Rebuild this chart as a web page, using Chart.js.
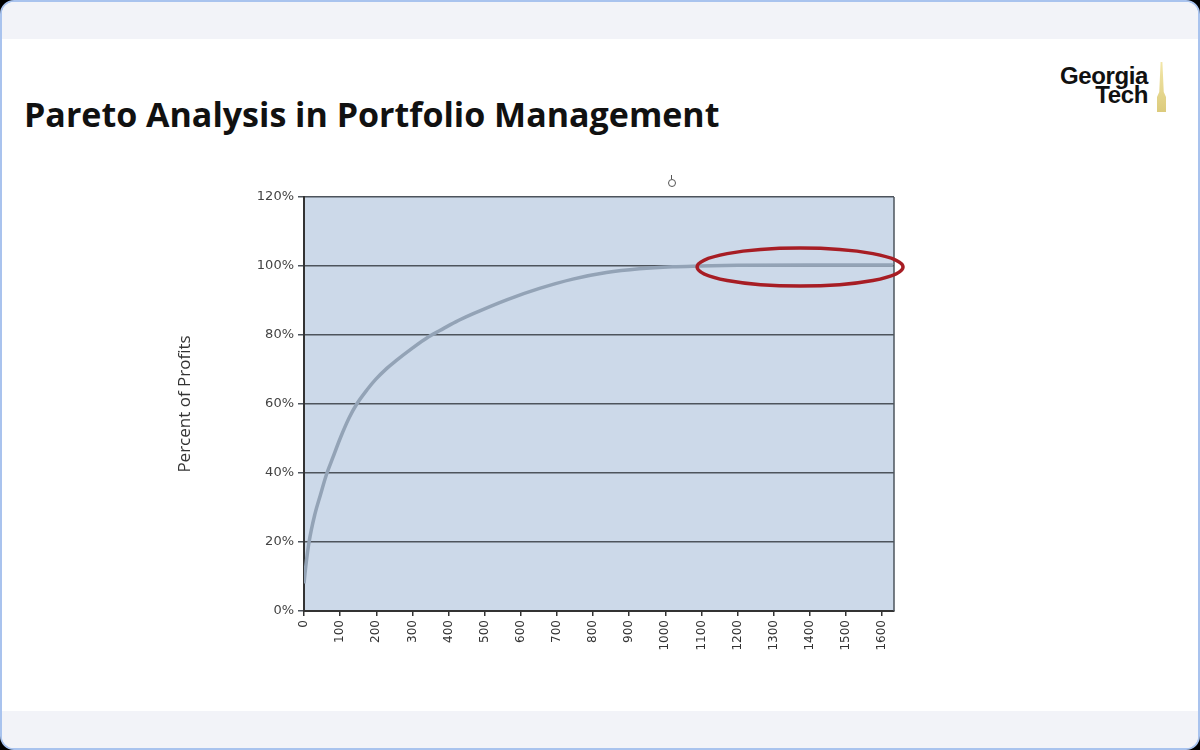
<!DOCTYPE html>
<html>
<head>
<meta charset="utf-8">
<script src="https://cdn.jsdelivr.net/npm/chart.js"></script>
<style>
  html, body { margin: 0; padding: 0; width: 1200px; height: 750px; background: #000; overflow: hidden; }
  #frame { position: absolute; left: 0; top: 0; width: 1200px; height: 750px; box-sizing: border-box;
           border: 2px solid #a9c3ee; border-radius: 14px; background: #fff; overflow: hidden; }
  .band { position: absolute; left: 0; right: 0; height: 37px; background: #f2f3f8; }
  #title { position: absolute; left: 24px; top: 91px; font-family: 'Open Sans', sans-serif; font-weight: 700;
           font-size: 34px; color: #111; white-space: nowrap; }
  #logo { position: absolute; right: 52px; top: 66px; font-family: 'Liberation Sans', Arial, sans-serif; font-weight: 700;
          font-size: 24px; line-height: 19px; text-align: right; color: #111; letter-spacing: -0.4px; }
  #tower { position: absolute; left: 1157px; top: 62px; width: 9px; height: 50px;
           background: linear-gradient(#f2e6a8, #dccb7c); clip-path: polygon(40% 0, 60% 0, 75% 60%, 100% 70%, 100% 100%, 0 100%, 0 70%, 25% 60%); }
  #pin { position: absolute; left: 668px; top: 179px; width: 6px; height: 6px; border: 1px solid #555; border-radius: 50%; }
  #pin::before { content: ''; position: absolute; left: 2px; top: -5px; width: 1px; height: 4px; background: #555; }
  #chart { position: absolute; left: 160px; top: 170px; }
</style>
</head>
<body>
<div id="frame">
  <div class="band" style="top:0"></div>
  <div class="band" style="bottom:0"></div>
</div>
<div id="title">Pareto Analysis in Portfolio Management</div>
<div id="logo">Georgia<br>Tech</div>
<div id="tower"></div>
<div id="pin"></div>
<canvas id="chart" width="760" height="500"></canvas>
<script>
// number of holdings (ranked by profit) and cumulative share of profits
const holdings  = [0, 5, 14, 30, 45, 62, 80, 100, 125, 146, 175, 199, 230, 254, 300, 345, 376, 420, 467, 561, 652, 744, 837, 928, 1020, 1094, 1200, 1400, 1630];
const profitPct = [8, 13, 20, 28, 33.5, 39.5, 44.5, 50, 56, 60, 64.2, 67.2, 70.4, 72.5, 76.2, 79.5, 81.3, 83.8, 86.1, 90.2, 93.5, 96.2, 98.1, 99.2, 99.8, 100, 100.2, 100.3, 100.3];

const xTicks = [0, 100, 200, 300, 400, 500, 600, 700, 800, 900, 1000, 1100, 1200, 1300, 1400, 1500, 1600];
const yTicks = [0, 20, 40, 60, 80, 100, 120];

// red ring around the flat tail (data units)
const ringX = [1088, 1658];
const ringY = [94.2, 105.2];

const points = holdings.map((h, i) => ({ x: h, y: profitPct[i] }));

const plotDecor = {
    id: 'plotDecor',
    beforeDraw(chart) {
        const { ctx, chartArea: a } = chart;
        ctx.save();
        ctx.fillStyle = '#ccd9e9';
        ctx.fillRect(a.left, a.top, a.right - a.left, a.bottom - a.top);
        ctx.restore();
    },
    afterDraw(chart) {
        const { ctx, chartArea: a, scales } = chart;
        ctx.save();
        // right edge of plot box
        ctx.strokeStyle = '#4d545c';
        ctx.lineWidth = 1.5;
        ctx.beginPath();
        ctx.moveTo(a.right, a.top);
        ctx.lineTo(a.right, a.bottom);
        ctx.stroke();
        // highlight ring
        const x0 = scales.x.getPixelForValue(ringX[0]), x1 = scales.x.getPixelForValue(ringX[1]);
        const y0 = scales.y.getPixelForValue(ringY[1]), y1 = scales.y.getPixelForValue(ringY[0]);
        ctx.strokeStyle = '#a71d24';
        ctx.lineWidth = 3.5;
        ctx.beginPath();
        ctx.ellipse((x0 + x1) / 2, (y0 + y1) / 2, (x1 - x0) / 2, (y1 - y0) / 2, 0, 0, Math.PI * 2);
        ctx.stroke();
        ctx.restore();
    }
};

new Chart(document.getElementById('chart'), {
    type: 'line',
    data: {
        datasets: [{
            data: points,
            borderColor: '#93a3b6',
            borderWidth: 3.5,
            pointRadius: 0,
            cubicInterpolationMode: 'monotone',
            fill: false
        }]
    },
    options: {
        responsive: false,
        animation: false,
        layout: { padding: { top: 27, right: 26, left: 0, bottom: 0 } },
        plugins: { legend: { display: false }, tooltip: { enabled: false } },
        scales: {
            x: {
                type: 'linear',
                min: 0,
                max: 1633,
                afterBuildTicks: s => { s.ticks = xTicks.map(v => ({ value: v })); },
                afterFit: s => { s.height = 59; },
                grid: { drawOnChartArea: false, color: '#333', lineWidth: 1.5, tickLength: 5 },
                border: { color: '#333', width: 2 },
                ticks: {
                    minRotation: 90, maxRotation: 90, autoSkip: false, padding: 4,
                    color: '#333', font: { family: 'DejaVu Sans', size: 12 },
                    callback: v => String(v)
                }
            },
            y: {
                min: 0,
                max: 120,
                afterBuildTicks: s => { s.ticks = yTicks.map(v => ({ value: v })); },
                afterFit: s => { s.width = 144; },
                grid: { color: '#4d545c', lineWidth: 1.5, tickLength: 6 },
                border: { color: '#333', width: 2 },
                ticks: {
                    padding: 4, color: '#444', font: { family: 'DejaVu Sans', size: 13 },
                    callback: v => v + '%'
                },
                title: {
                    display: true, text: 'Percent of Profits', color: '#333',
                    font: { family: 'Open Sans', size: 17 }, padding: { top: 15, bottom: 0 }
                }
            }
        }
    },
    plugins: [plotDecor]
});
</script>
</body>
</html>
